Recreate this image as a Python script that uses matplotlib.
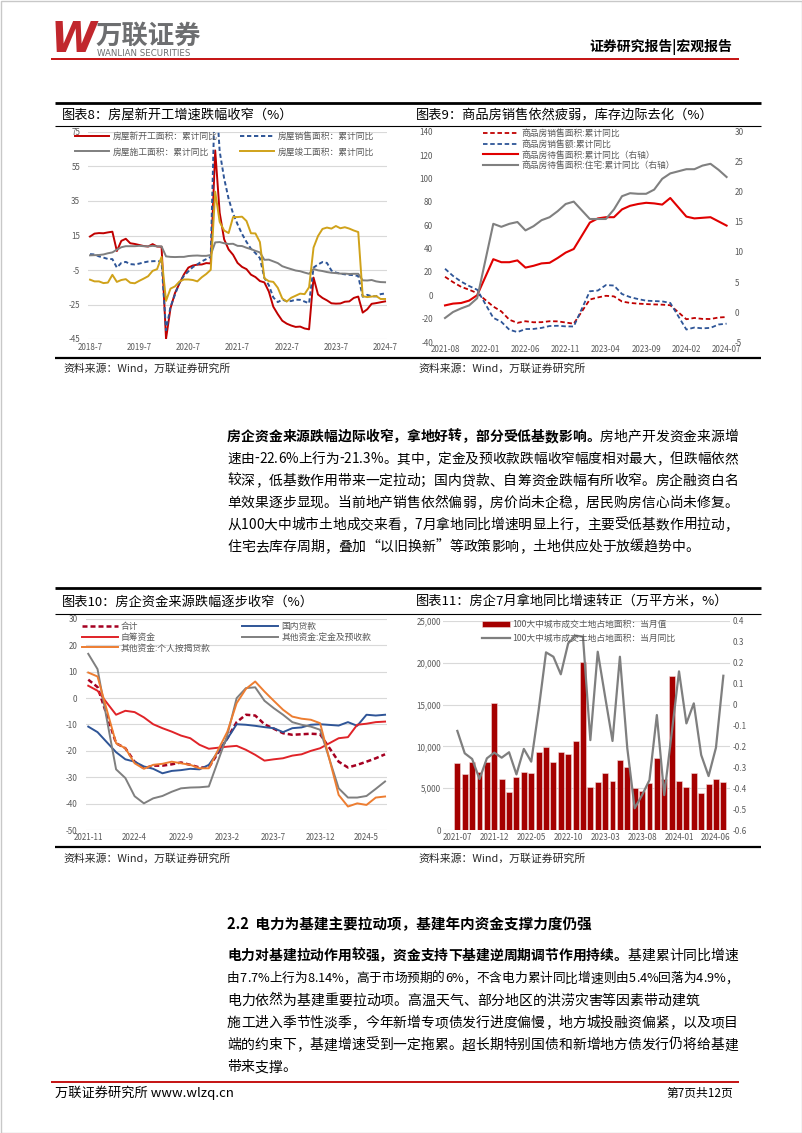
import numpy as np
import matplotlib
matplotlib.use("Agg")
import matplotlib.pyplot as plt
from matplotlib.patches import Rectangle
from matplotlib.ticker import FuncFormatter
from matplotlib.font_manager import FontProperties, findfont, get_font

plt.rcParams["font.family"] = ["Noto Sans CJK SC", "DejaVu Sans"]
plt.rcParams["axes.unicode_minus"] = False

nan = np.nan

# ---------- data: chart 8 (cumulative yoy, Jan omitted) ----------
new_start = [14.4, 16.1, 16.4, 16.3, 16.8, 17.2,
             6.0, 11.9, 13.1, 10.5, 10.1, 9.5, 8.9, 8.6, 10.0, 8.6, 8.5,
             -44.9, -27.2, -18.4, -12.8, -7.6, -3.6, -2.4, -1.9, -1.8, -1.0, -1.2,
             64.3, 28.2, 12.8, 6.9, 3.8, -0.9, -3.2, -4.5, -7.7, -9.1, -11.4,
             -12.2, -17.5, -26.3, -30.6, -34.4, -36.1, -37.2, -38.0, -37.8, -38.9, -39.4,
             -9.4, -19.2, -21.2, -22.6, -24.3, -24.5, -24.4, -23.4, -23.2, -21.2, -20.4,
             -29.7, -27.8, -24.6, -24.2, -23.7, -23.2]
sales_area = [4.2, 4.0, 2.9, 2.2, 1.4, 1.3,
              -3.6, -0.9, -0.3, -1.6, -1.8, -1.3, -0.6, -0.1, 0.1, 0.2, -0.1,
              -39.9, -26.3, -19.3, -12.3, -8.4, -5.8, -3.3, -1.8, 0.0, 1.3, 2.6,
              104.9, 63.8, 48.1, 36.3, 27.7, 21.5, 15.9, 11.3, 7.3, 4.8, 1.9,
              -9.6, -13.8, -20.9, -23.6, -22.2, -23.1, -23.0, -22.2, -22.3, -23.3, -24.3,
              -3.6, -1.8, -0.4, -0.9, -5.3, -6.5, -7.1, -7.5, -7.8, -8.0, -8.5,
              -20.5, -19.4, -20.2, -20.3, -19.0, -18.6]
under_constr = [3.5, 3.6, 3.7, 4.0, 4.7, 5.2,
                6.8, 8.2, 8.8, 8.8, 8.8, 9.0, 8.8, 8.7, 9.0, 8.7, 8.7,
                2.9, 2.6, 2.5, 2.6, 2.6, 3.1, 3.3, 3.4, 3.2, 3.2, 3.7,
                11.0, 11.2, 10.5, 10.1, 10.2, 9.0, 8.9, 7.9, 7.1, 6.1, 5.2,
                0.9, 1.0, 0.0, -1.0, -2.8, -3.7, -4.5, -5.3, -5.7, -6.5, -7.2,
                -4.4, -5.2, -5.6, -6.2, -6.6, -6.8, -7.1, -7.1, -7.3, -7.2, -7.2,
                -11.0, -11.1, -10.8, -11.6, -12.0, -12.1]
completed = [-10.6, -11.6, -11.6, -12.6, -12.3, -7.8,
             -11.9, -10.8, -10.3, -12.4, -12.7, -11.3, -10.0, -8.6, -5.5, -4.5, 2.6,
             -22.9, -15.8, -14.5, -11.7, -10.5, -10.5, -10.8, -11.6, -9.2, -7.3, -4.9,
             40.4, 22.9, 17.9, 16.4, 25.7, 25.7, 25.9, 23.4, 16.3, 16.2, 11.2,
             -9.8, -11.5, -11.9, -15.3, -21.5, -23.3, -21.1, -19.9, -18.7, -19.0, -15.0,
             8.0, 14.7, 18.8, 19.6, 19.0, 20.5, 19.2, 19.8, 19.0, 17.9, 17.0,
             -20.2, -20.7, -20.4, -20.1, -21.8, -21.8]

# ---------- data: chart 9 (2021-08 .. 2024-07, Jan empty) ----------
sold_area9 = [15.9, 11.3, 7.3, 4.8, 1.9, nan, -9.6, -13.8, -20.9, -23.6, -22.2, -23.1,
              -23.0, -22.2, -22.3, -23.3, -24.3, nan, -3.6, -1.8, -0.4, -0.9, -5.3, -6.5,
              -7.1, -7.5, -7.8, -8.0, -8.5, nan, -20.5, -19.4, -20.2, -20.3, -19.0, -18.6]
sold_value9 = [22.8, 16.6, 11.8, 8.0, 4.8, nan, -19.3, -22.7, -29.5, -31.5, -28.9, -28.8,
               -27.9, -26.3, -26.1, -26.6, -26.7, nan, 3.5, 4.1, 8.8, 8.4, 1.1, -1.5,
               -3.2, -4.6, -4.9, -5.2, -6.5, nan, -29.3, -27.6, -28.3, -27.9, -25.0, -24.3]
unsold_area9 = [1.1, 1.4, 1.5, 1.9, 2.8, nan, 8.8, 8.3, 8.3, 8.6, 7.4, 7.7,
                8.1, 8.2, 9.0, 9.9, 10.5, nan, 14.9, 15.6, 15.8, 15.8, 17.1, 17.7,
                18.0, 18.2, 18.1, 17.9, 19.0, nan, 15.9, 15.6, 15.7, 15.8, 15.1, 14.4]
unsold_home9 = [-1.0, 0.0, 0.6, 1.1, 2.3, nan, 14.7, 14.2, 14.7, 15.0, 13.6, 14.3,
                15.3, 15.8, 16.8, 18.0, 18.4, nan, 15.5, 15.5, 15.5, 17.1, 19.3, 19.8,
                19.7, 19.7, 20.4, 22.2, 23.1, nan, 23.8, 23.8, 24.4, 24.7, 23.7, 22.5]

# ---------- data: chart 10 (2021-11 .. 2024-07, Jan empty) ----------
fund_total = [7.0, 4.2, nan, -17.1, -19.0, -24.1, -26.6, -25.6, -25.6, -25.1, -24.4,
              -25.3, -26.3, -26.3, nan, -15.2, -9.1, -6.3, -6.6, -9.9, -11.6, -13.3,
              -13.9, -13.7, -13.5, -13.7, nan, -24.1, -26.3, -25.3, -24.1, -22.8, -21.3]
fund_domestic = [-10.8, -12.9, nan, -20.5, -23.2, -24.1, -25.9, -26.8, -28.5, -27.6, -27.3,
                 -26.8, -27.0, -25.3, nan, -15.4, -9.9, -10.1, -10.5, -11.0, -11.4, -12.9,
                 -11.4, -11.1, -10.1, -9.9, nan, -10.4, -9.1, -10.5, -6.3, -6.6, -6.3]
fund_self = [4.7, 2.8, nan, -6.3, -4.8, -5.3, -7.3, -9.9, -11.4, -12.7, -14.2,
             -15.2, -17.7, -19.2, nan, -18.4, -18.1, -19.6, -21.5, -23.7, -23.2, -22.8,
             -21.8, -21.3, -20.0, -19.0, nan, -15.2, -14.8, -10.1, -9.7, -9.1, -8.9]
fund_deposit = [16.8, 11.0, nan, -27.0, -30.3, -37.2, -39.9, -38.0, -37.1, -35.5, -34.2,
                -33.9, -33.8, -33.5, nan, -14.0, 0.0, 3.8, 4.1, -1.0, -3.8, -6.3,
                -9.1, -10.1, -10.8, -12.0, nan, -34.2, -37.7, -37.7, -37.1, -34.4, -31.6]
fund_mortgage = [9.7, 8.2, nan, -17.1, -19.0, -24.7, -26.8, -25.3, -24.9, -24.1, -24.7,
                 -25.3, -26.6, -26.6, nan, -12.7, -1.9, 3.5, 6.3, 2.5, -1.0, -4.4,
                 -7.0, -7.8, -8.2, -9.5, nan, -36.7, -41.1, -39.9, -40.5, -37.7, -37.3]

# ---------- data: chart 11 (2021-07 .. 2024-07) ----------
land_area = [7980, 6660, 8180, 6980, 8100, 15150, 6100, 4590, 6380, 6980, 6780, 9290,
             9970, 8180, 9370, 9050, 10650, 20140, 5100, 5700, 6780, 5860, 8330, 7500,
             5060, 4670, 5580, 8650, 6100, 18460, 5900, 5180, 6780, 4470, 5540, 6060, 5700]
land_yoy = [-0.126, -0.233, -0.260, -0.356, -0.257, -0.230, -0.254, -0.228, -0.334, -0.212,
            -0.273, -0.026, 0.250, 0.229, 0.145, 0.293, 0.330, 0.325, -0.170, 0.253,
            0.038, -0.174, 0.229, -0.209, -0.496, -0.433, -0.361, -0.050, -0.433, -0.140,
            0.159, -0.090, 0.006, -0.241, -0.342, -0.206, 0.138]


def month_list(y0, m0, y1, m1, skip_jan=False, pad=False):
    out = []
    y, m = y0, m0
    while (y, m) <= (y1, m1):
        if not (skip_jan and m == 1):
            out.append(f"{y}-{m:02d}" if pad else f"{y}-{m}")
        m += 1
        if m > 12:
            y, m = y + 1, 1
    return out


months8 = month_list(2018, 7, 2024, 7, skip_jan=True)
months9 = month_list(2021, 8, 2024, 7, pad=True)
months10 = month_list(2021, 11, 2024, 7)
months11 = month_list(2021, 7, 2024, 7, pad=True)

# ---------- body text ----------
para1 = [[("房企资金来源跌幅边际收窄，拿地好转，部分受低基数影响。", "bold"), ("房地产开发资金来源增", "normal")],
         [("速由-22.6%上行为-21.3%。其中，定金及预收款跌幅收窄幅度相对最大，但跌幅依然", "normal")],
         [("较深，低基数作用带来一定拉动；国内贷款、自筹资金跌幅有所收窄。房企融资白名", "normal")],
         [("单效果逐步显现。当前地产销售依然偏弱，房价尚未企稳，居民购房信心尚未修复。", "normal")],
         [("从100大中城市土地成交来看，7月拿地同比增速明显上行，主要受低基数作用拉动，", "normal")],
         [("住宅去库存周期，叠加“以旧换新”等政策影响，土地供应处于放缓趋势中。", "normal")]]
para1_just = [True, True, True, True, True, False]
para2 = [[("电力对基建拉动作用较强，资金支持下基建逆周期调节作用持续。", "bold"), ("基建累计同比增速", "normal")],
         [("由7.7%上行为8.14%，高于市场预期的6%，不含电力累计同比增速则由5.4%回落为4.9%，", "normal")],
         [("电力依然为基建重要拉动项。高温天气、部分地区的洪涝灾害等因素带动建筑", "normal")],
         [("施工进入季节性淡季，今年新增专项债发行进度偏慢，地方城投融资偏紧，以及项目", "normal")],
         [("端的约束下，基建增速受到一定拖累。超长期特别国债和新增地方债发行仍将给基建", "normal")],
         [("带来支撑。", "normal")]]
para2_just = [True, True, False, True, True, False]

# ---------- page ----------
W, H = 802, 1133
fig = plt.figure(figsize=(W / 100, H / 100), dpi=100)
page = fig.add_axes([0, 0, 1, 1])
page.set_xlim(0, W)
page.set_ylim(H, 0)
page.axis("off")

C_TICK = "#595959"
C_LEG = "#595959"
RED = "#C00000"
FS = 10


def px_axes(l, t, r, b):
    return fig.add_axes([l / W, 1 - b / H, (r - l) / W, (b - t) / H])


def style(ax, grid=True):
    for sp in ax.spines.values():
        sp.set_visible(False)
    ax.tick_params(axis="both", length=0, labelsize=5.8, labelcolor=C_TICK)
    ax.patch.set_visible(False)
    if grid:
        ax.grid(axis="y", color="#D9D9D9", lw=0.8)
        ax.set_axisbelow(True)


def plot_gaps(ax, y, **kw):
    y = np.asarray(y, dtype=float)
    x = np.arange(len(y))
    ok = ~np.isnan(y)
    return ax.plot(x[ok], y[ok], **kw)[0]


def px_legend(ax, handles, x, y, **kw):
    return ax.legend(handles=handles, loc="upper left", bbox_to_anchor=(x / W, 1 - y / H),
                     bbox_transform=fig.transFigure, frameon=False, fontsize=6.3,
                     labelcolor=C_LEG, borderpad=0, borderaxespad=0, **kw)


def hline(x0, x1, y, lw, color="black"):
    page.plot([x0, x1], [y, y], color=color, lw=lw, solid_capstyle="butt")


def advances(text, weight, size):
    font = get_font(findfont(FontProperties(family="Noto Sans CJK SC", weight=weight)))
    font.set_size(size, 100)
    return [font.load_char(ord(c)).linearHoriAdvance / 65536 for c in text]


def text_line(y, segments, justify, x0=227, x1=738):
    size = FS
    chars, adv = [], []
    for s, w in segments:
        chars += [(c, w) for c in s]
        adv += advances(s, w, size)
    if sum(adv) > x1 - x0:
        # line too long for the column: shrink it slightly instead of overlapping glyphs
        size = FS * (x1 - x0) / sum(adv)
        adv = [a * size / FS for a in adv]
    gap = (x1 - x0 - sum(adv)) / (len(chars) - 1) if justify else 0
    x = x0
    for (c, w), a in zip(chars, adv):
        page.text(x, y + 5, c, fontsize=size, weight=w, va="baseline", ha="left")
        x += a + gap


# header
page.add_patch(Rectangle((0.5, 0.5), W - 1, H - 1, fill=False, ec="#C8C8C8", lw=1))
page.text(51, 40, "W", fontsize=30, color="#C1272D", weight="bold", style="italic",
          family="DejaVu Sans", va="center", ha="left")
page.text(95, 36, "万联证券", fontsize=19, color="#6D6E70", weight="bold", va="center")
page.text(97, 53, "WANLIAN SECURITIES", fontsize=6.2, color="#6D6E70", va="center",
          family="DejaVu Sans")
hline(51, 739, 58.5, 1.3, RED)
page.text(732, 47, "证券研究报告|宏观报告", fontsize=10, weight="bold", ha="right", va="center")

# chart frames
for top, mid, bot in [(103, 126, 358), (588, 614, 847)]:
    hline(55, 761, top, 2.0)
    hline(55, 761, mid, 0.8)
    hline(55, 761, bot, 1.6)
page.text(62, 115, "图表8：房屋新开工增速跌幅收窄（%）", fontsize=9.5, va="center")
page.text(416, 115, "图表9：商品房销售依然疲弱，库存边际去化（%）", fontsize=9.5, va="center")
page.text(62, 602, "图表10：房企资金来源跌幅逐步收窄（%）", fontsize=9.5, va="center")
page.text(416, 602, "图表11：房企7月拿地同比增速转正（万平方米，%）", fontsize=9.5, va="center")
for sx, sy in [(63, 369), (418, 369), (63, 859), (418, 859)]:
    page.text(sx, sy, "资料来源：Wind，万联证券研究所", fontsize=7.8, color="#262626", va="center")

# ---------- chart 8 ----------
ax8 = px_axes(87.8, 132, 387.3, 339)
style(ax8)
x8 = np.arange(len(months8))
l1, = ax8.plot(x8, new_start, color=RED, lw=1.4, label="房屋新开工面积：累计同比")
l2, = ax8.plot(x8, sales_area, color="#2E5597", lw=1.4, ls=(0, (2.2, 1.4)),
               label="房屋销售面积：累计同比")
l3, = ax8.plot(x8, under_constr, color="#7F7F7F", lw=1.4, label="房屋施工面积：累计同比")
l4, = ax8.plot(x8, completed, color="#D0A21A", lw=1.4, label="房屋竣工面积：累计同比")
ax8.set_xlim(-0.5, len(months8) - 0.5)
ax8.set_ylim(-45, 75)
ax8.set_yticks(np.arange(-45, 76, 20))
t8 = [i for i, m in enumerate(months8) if m.endswith("-7")]
ax8.set_xticks(t8)
ax8.set_xticklabels([months8[i] for i in t8])
ax8.tick_params(axis="y", pad=5.5)
ax8.tick_params(axis="x", pad=3)
px_legend(ax8, [l1, l3, l2, l4], 75, 132, ncol=2, handlelength=3.9, handletextpad=0.45,
          columnspacing=2.5, labelspacing=0.75)

# ---------- chart 9 ----------
ax9 = px_axes(442.6, 132, 729, 342)
style(ax9, grid=False)
ax9r = ax9.twinx()
style(ax9r, grid=False)
m1 = plot_gaps(ax9, sold_area9, color=RED, lw=1.3, ls=(0, (2.5, 1.5)),
               label="商品房销售面积:累计同比")
m2 = plot_gaps(ax9, sold_value9, color="#2E5597", lw=1.3, ls=(0, (2.5, 1.5)),
               label="商品房销售额:累计同比")
m3 = plot_gaps(ax9r, unsold_area9, color="#E00000", lw=1.5, label="商品房待售面积:累计同比（右轴）")
m4 = plot_gaps(ax9r, unsold_home9, color="#808080", lw=1.5,
               label="商品房待售面积:住宅:累计同比（右轴）")
ax9.set_xlim(-0.3, len(months9) - 0.7)
ax9.set_ylim(-40, 140)
ax9.set_yticks(np.arange(-40, 141, 20))
ax9r.set_ylim(-5, 30)
ax9r.set_yticks(np.arange(-5, 31, 5))
t9 = list(range(0, len(months9), 5))
ax9.set_xticks(t9)
ax9.set_xticklabels([months9[i] for i in t9])
ax9.tick_params(axis="y", pad=7)
ax9.tick_params(axis="x", pad=2.5)
ax9r.tick_params(axis="y", pad=4)
px_legend(ax9r, [m1, m2, m3, m4], 483, 129, ncol=1, handlelength=4.0, handletextpad=0.45,
          labelspacing=0.2)

# ---------- chart 10 ----------
ax10 = px_axes(86.4, 619, 386.9, 830)
style(ax10)
f1 = plot_gaps(ax10, fund_total, color="#A50021", lw=1.8, ls=(0, (2.0, 1.2)), label="合计")
f2 = plot_gaps(ax10, fund_domestic, color="#2F5597", lw=1.4, label="国内贷款")
f3 = plot_gaps(ax10, fund_self, color="#E02328", lw=1.4, label="自筹资金")
f4 = plot_gaps(ax10, fund_deposit, color="#7F7F7F", lw=1.4, label="其他资金:定金及预收款")
f5 = plot_gaps(ax10, fund_mortgage, color="#ED7D31", lw=1.4, label="其他资金:个人按揭贷款")
ax10.set_xlim(-0.2, len(months10) - 0.8)
ax10.set_ylim(-50, 30)
ax10.set_yticks(np.arange(-50, 31, 10))
t10 = list(range(0, len(months10), 5))
ax10.set_xticks(t10)
ax10.set_xticklabels([months10[i] for i in t10])
ax10.tick_params(axis="y", pad=6.5)
ax10.tick_params(axis="x", pad=2.5)
px_legend(ax10, [f1, f3, f5, f2, f4], 82, 622, ncol=2, handlelength=4.1, handletextpad=0.35,
          columnspacing=3.6, labelspacing=0.2)

# ---------- chart 11 ----------
ax11 = px_axes(443.3, 621, 730, 830)
style(ax11)
x11 = np.arange(len(months11))
bars = ax11.bar(x11, land_area, width=0.8, color="#A50000", edgecolor="#F2DCDB", lw=0.4,
                label="100大中城市成交土地占地面积：当月值")
ax11.set_xlim(-1.9, len(months11) - 0.1)
ax11.set_ylim(0, 25000)
ax11.set_yticks(np.arange(0, 25001, 5000))
ax11.yaxis.set_major_formatter(FuncFormatter(lambda v, _: f"{int(v):,}"))
ax11r = ax11.twinx()
style(ax11r, grid=False)
g1, = ax11r.plot(x11, land_yoy, color="#7F7F7F", lw=1.6, label="100大中城市成交土地占地面积：当月同比")
ax11r.set_ylim(-0.6, 0.4)
ax11r.set_yticks(np.linspace(-0.6, 0.4, 11))
ax11r.yaxis.set_major_formatter(FuncFormatter(lambda v, _: "0" if abs(v) < 1e-9 else f"{v:.1f}"))
t11 = list(range(0, len(months11), 5))
ax11.set_xticks(t11)
ax11.set_xticklabels([months11[i] for i in t11])
ax11.tick_params(axis="y", pad=1.5)
ax11.tick_params(axis="x", pad=2.5)
ax11r.tick_params(axis="y", pad=2)
px_legend(ax11r, [bars, g1], 482, 620, ncol=1, handlelength=3.2, handletextpad=0.25,
          labelspacing=0.55)

# ---------- paragraphs ----------
for k, (segs, just) in enumerate(zip(para1, para1_just)):
    text_line(436 + 22 * k, segs, just)

page.text(227, 924, "2.2  电力为基建主要拉动项，基建年内资金支撑力度仍强", fontsize=10.5,
          weight="bold", va="center")
for k, (segs, just) in enumerate(zip(para2, para2_just)):
    text_line(955 + 22.3 * k, segs, just)

# footer
hline(51, 739, 1082, 1.3, RED)
page.text(55, 1093, "万联证券研究所 www.wlzq.cn", fontsize=9.5, va="center")
page.text(733, 1093, "第7页共12页", fontsize=8.5, va="center", ha="right")

fig.savefig("out.png", dpi=100)
